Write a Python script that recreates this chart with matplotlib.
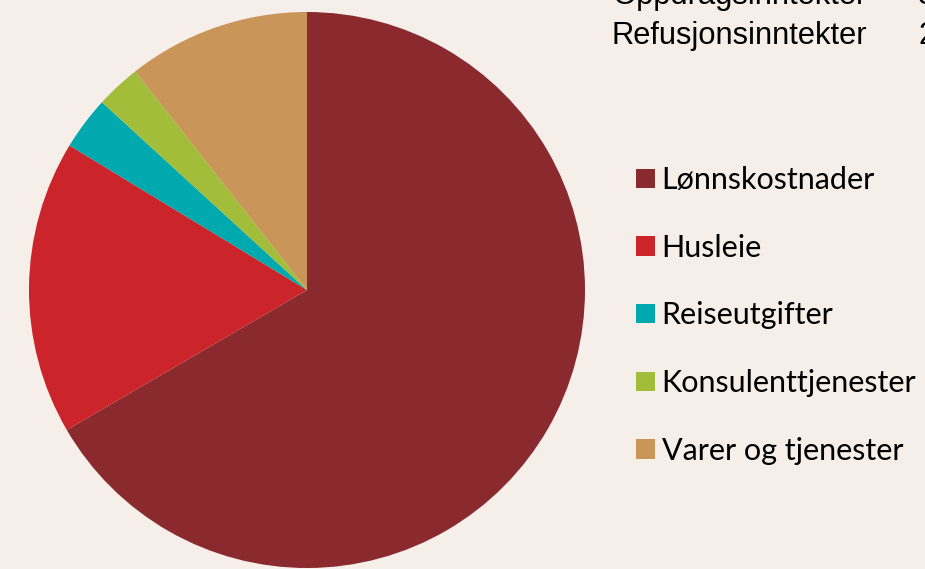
import matplotlib.pyplot as plt
from matplotlib.patches import Patch

# data
labels = ["Lønnskostnader", "Husleie", "Reiseutgifter", "Konsulenttjenester", "Varer og tjenester"]
shares = [66.6, 17.1, 3.1, 2.6, 10.6]
colors = ["#8B2A2E", "#CC242B", "#00A9AD", "#A2BD3A", "#C99558"]
income_labels = ["Oppdragsinntekter", "Refusjonsinntekter"]
income_values = ["3", "2"]

bg = "#F6EEE8"
W, H = 925, 569
fig = plt.figure(figsize=(W / 100, H / 100), dpi=100, facecolor=bg)

# pie centre (307, 290) px, radius 278 px
cx, cy, r = 307, 290, 278
ax = fig.add_axes([(cx - r) / W, (H - cy - r) / H, 2 * r / W, 2 * r / H])
ax.set_facecolor(bg)
ax.pie(shares, colors=colors, startangle=90, counterclock=False, radius=1,
       wedgeprops=dict(linewidth=0))
ax.set_xlim(-1, 1)
ax.set_ylim(-1, 1)
ax.set_aspect("equal")
ax.axis("off")

# text block top right (cut off by figure edge)
for i, (lab, val) in enumerate(zip(income_labels, income_values)):
    yb = 4 + i * 40
    fig.text(612 / W, 1 - yb / H, lab, fontsize=22.2, family="Liberation Sans",
             va="baseline", ha="left", color="black")
    fig.text(918 / W, 1 - yb / H, val, fontsize=22.2, family="Liberation Sans",
             va="baseline", ha="left", color="black")

handles = [Patch(facecolor=c, edgecolor="none") for c in colors]
leg = fig.legend(handles, labels, loc="upper left", bbox_to_anchor=(636 / W, 1 - 166 / H),
                 frameon=False, prop=dict(family="Lato", size=22),
                 handlelength=0.62, handleheight=0.6, handletextpad=0.22,
                 labelspacing=1.3, borderaxespad=0, borderpad=0)

fig.savefig("out.png", dpi=100, facecolor=bg)
